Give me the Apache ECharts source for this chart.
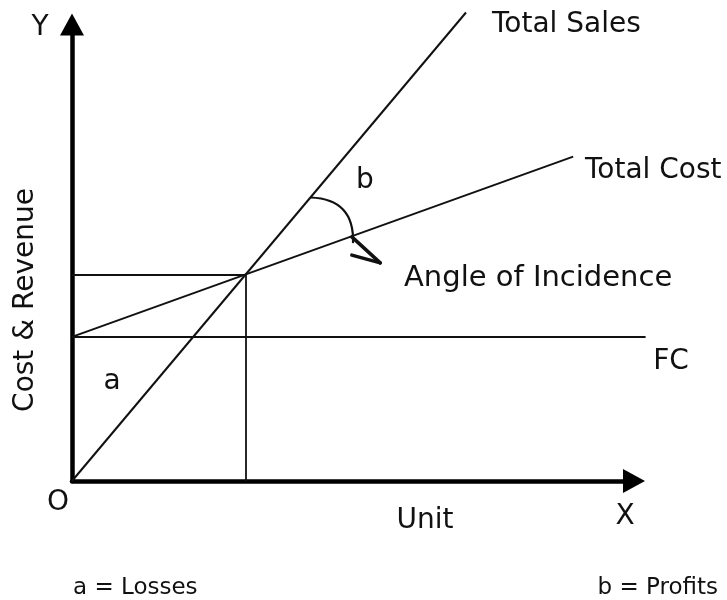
<!DOCTYPE html>
<html>
<head>
<meta charset="utf-8">
<title>Break-even chart</title>
<script src="https://cdn.jsdelivr.net/npm/echarts@6/dist/echarts.min.js"></script>
<style>
  html, body { margin: 0; padding: 0; background: #fff; }
  #chart { width: 727px; height: 600px; }
</style>
</head>
<body>
<div id="chart"></div>
<script>
// lines of the break-even chart, in units along each axis
const salesLine = [[0, 0], [68, 97.5]]
const costLine = [[0, 30], [86.5, 67.5]]
const fixedCostLine = [[0, 30], [99, 30]]
const breakEven = [30, 43]
const dropLines = [
  [[0, 43], [30, 43]],
  [[30, 43], [30, 0]]
]
// angle of incidence arc and its arrow head
const angleArc = [[41.2, 59], [48.5, 49.5]]
const arrowHead = [
  [[48.3, 50.8], [53.2, 45.4]],
  [[48.3, 47.0], [53.2, 45.4]]
]

const chart = echarts.init(document.getElementById('chart'))

const font = '"DejaVu Sans", sans-serif'
const ink = '#111'

function label(text, x, y, size, align, valign, rotation) {
  return {
    type: 'text',
    x: x,
    y: y,
    rotation: rotation || 0,
    style: {
      text: text,
      font: size + 'px ' + font,
      fill: ink,
      align: align,
      textAlign: align,
      verticalAlign: valign,
      textVerticalAlign: valign
    }
  }
}

function segments(name, list, width, extra) {
  return {
    name: name,
    type: 'lines',
    coordinateSystem: 'cartesian2d',
    clip: false,
    data: list.map(c => ({ coords: c })),
    lineStyle: Object.assign({ color: ink, width: width, opacity: 1 }, extra || {})
  }
}

const axisCommon = {
  type: 'value',
  axisTick: { show: false },
  axisLabel: { show: false },
  splitLine: { show: false },
  axisLine: {
    show: true,
    symbol: ['none', 'triangle'],
    symbolSize: [24, 22],
    lineStyle: { color: '#000', width: 4.5 }
  }
}

const option = {
  animation: false,
  grid: { left: 72, top: 24.5, width: 562, height: 456.5 },
  xAxis: Object.assign({}, axisCommon, { min: 0, max: 97 }),
  yAxis: Object.assign({}, axisCommon, { min: 0, max: 95 }),
  series: [
    segments('Total Sales', [salesLine], 2),
    segments('Total Cost', [costLine], 2),
    segments('FC', [fixedCostLine], 2),
    segments('Break-even', dropLines, 1.8),
    segments('Angle', [angleArc], 2.2, { curveness: 0.5 }),
    segments('Arrow', arrowHead, 3.5, { cap: 'round' })
  ],
  graphic: [
    label('Y', 40, 28, 28, 'center', 'middle'),
    label('Total Sales', 492, 25, 28, 'left', 'middle'),
    label('Total Cost', 585, 171, 28, 'left', 'middle'),
    label('b', 365, 181, 28, 'center', 'middle'),
    label('Angle of Incidence', 404, 278, 29, 'left', 'middle'),
    label('FC', 671, 362, 28, 'center', 'middle'),
    label('a', 112, 382, 28, 'center', 'middle'),
    label('Cost & Revenue', 26, 300, 28, 'center', 'middle', Math.PI / 2),
    label('O', 58, 503, 28, 'center', 'middle'),
    label('Unit', 425, 521, 28, 'center', 'middle'),
    label('X', 625, 517, 28, 'center', 'middle'),
    label('a = Losses', 73, 588, 23, 'left', 'middle'),
    label('b = Profits', 718, 588, 23, 'right', 'middle')
  ]
}

chart.setOption(option)
</script>
</body>
</html>
